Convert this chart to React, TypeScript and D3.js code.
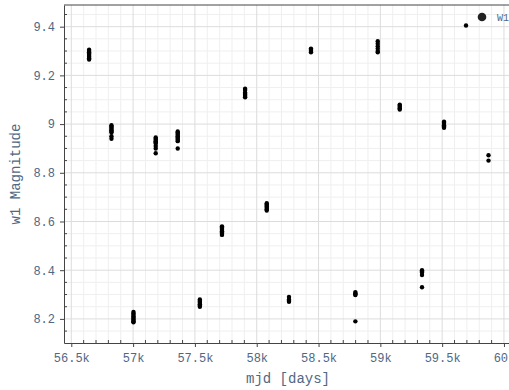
import React, { useEffect, useRef } from 'react';
import * as d3 from 'd3';

// observation epochs (mjd) and the w1 magnitudes measured in each visit
const epochs = [56644, 56825, 57003, 57183, 57361, 57540, 57719, 57906, 58081, 58261, 58439, 58798, 58979, 59157, 59337, 59515, 59693, 59875];
const w1Mags = [
  [9.305, 9.3, 9.295, 9.29, 9.285, 9.28, 9.275, 9.27, 9.265],
  [8.995, 8.99, 8.985, 8.98, 8.975, 8.97, 8.965, 8.95, 8.94],
  [8.228, 8.222, 8.216, 8.21, 8.205, 8.2, 8.195, 8.19, 8.186],
  [8.945, 8.94, 8.935, 8.93, 8.925, 8.92, 8.91, 8.9, 8.88],
  [8.97, 8.965, 8.96, 8.955, 8.95, 8.945, 8.94, 8.935, 8.93, 8.9],
  [8.28, 8.275, 8.27, 8.265, 8.26, 8.255, 8.25],
  [8.58, 8.575, 8.57, 8.565, 8.56, 8.555, 8.55, 8.545],
  [9.145, 9.14, 9.13, 9.125, 9.12, 9.115, 9.11],
  [8.675, 8.67, 8.665, 8.66, 8.655, 8.65, 8.645],
  [8.29, 8.28, 8.275, 8.27],
  [9.31, 9.305, 9.3, 9.295],
  [8.31, 8.305, 8.3, 8.298, 8.19],
  [9.34, 9.33, 9.32, 9.31, 9.3, 9.295],
  [9.08, 9.075, 9.07, 9.065, 9.06],
  [8.4, 8.395, 8.39, 8.38, 8.33],
  [9.01, 9.005, 9.0, 8.995, 8.99, 8.985],
  [9.405],
  [8.872, 8.85],
];
const xTicks = [56500, 57000, 57500, 58000, 58500, 59000, 59500, 60000];
const xTickLabels = ['56.5k', '57k', '57.5k', '58k', '58.5k', '59k', '59.5k', '60k'];
const yTicks = [8.2, 8.4, 8.6, 8.8, 9, 9.2, 9.4];
const seriesName = 'W1';

const W = 509;
const H = 390;
const margin = { left: 64, top: 5, right: -3, bottom: 47 };
const font = '"Courier New", "Liberation Mono", monospace';
const textColor = '#506784';

const App = () => {
  const ref = useRef(null);

  useEffect(() => {
    const svgRef = d3.select(ref.current);
    svgRef.selectAll('*').remove();

    const x0 = margin.left;
    const x1 = W - margin.right;
    const y0 = margin.top;
    const y1 = H - margin.bottom;

    const xScale = d3.scaleLinear().domain([56441, 60065]).range([x0, x1]);
    const yScale = d3.scaleLinear().domain([8.101, 9.489]).range([y1, y0]);

    const points = [];
    epochs.forEach((t, i) => {
      w1Mags[i].forEach((m) => points.push({ t, m }));
    });

    const svg = svgRef.attr('width', W).attr('height', H);

    // minor grid
    const xMinor = d3.range(56500, 60100, 100).filter((v) => v % 500 !== 0);
    const yMinor = d3.range(8.15, 9.5, 0.05).filter((v) => Math.abs(Math.round(v * 5) - v * 5) > 0.01);
    const grid = svg.append('g');
    grid.selectAll('.xm').data(xMinor).join('line')
      .attr('x1', (d) => xScale(d)).attr('x2', (d) => xScale(d))
      .attr('y1', y0).attr('y2', y1)
      .attr('stroke', '#efefef').attr('stroke-width', 1);
    grid.selectAll('.ym').data(yMinor).join('line')
      .attr('x1', x0).attr('x2', x1)
      .attr('y1', (d) => yScale(d)).attr('y2', (d) => yScale(d))
      .attr('stroke', '#efefef').attr('stroke-width', 1);

    // major grid
    grid.selectAll('.xM').data(xTicks).join('line')
      .attr('x1', (d) => xScale(d)).attr('x2', (d) => xScale(d))
      .attr('y1', y0).attr('y2', y1)
      .attr('stroke', '#dcdcdc').attr('stroke-width', 1);
    grid.selectAll('.yM').data(yTicks).join('line')
      .attr('x1', x0).attr('x2', x1)
      .attr('y1', (d) => yScale(d)).attr('y2', (d) => yScale(d))
      .attr('stroke', '#dcdcdc').attr('stroke-width', 1);

    // minor ticks inside
    svg.append('g').selectAll('line').data(xMinor).join('line')
      .attr('x1', (d) => xScale(d)).attr('x2', (d) => xScale(d))
      .attr('y1', y1).attr('y2', y1 - 3)
      .attr('stroke', '#444');
    svg.append('g').selectAll('line').data(yMinor).join('line')
      .attr('x1', x0).attr('x2', x0 + 3)
      .attr('y1', (d) => yScale(d)).attr('y2', (d) => yScale(d))
      .attr('stroke', '#444');

    // axes
    const xAxis = svg.append('g')
      .attr('transform', `translate(0, ${y1})`)
      .call(d3.axisBottom(xScale).tickValues(xTicks).tickSize(4).tickSizeOuter(0)
        .tickFormat((d, i) => xTickLabels[i]));
    const yAxis = svg.append('g')
      .attr('transform', `translate(${x0}, 0)`)
      .call(d3.axisLeft(yScale).tickValues(yTicks).tickSize(4).tickSizeOuter(0)
        .tickFormat((d) => String(d)));
    [xAxis, yAxis].forEach((a) => {
      a.select('.domain').attr('stroke', '#444');
      a.selectAll('.tick line').attr('stroke', '#444');
      a.selectAll('.tick text')
        .attr('fill', textColor)
        .attr('font-family', font)
        .attr('font-size', 12);
    });
    xAxis.selectAll('.tick text').attr('dy', '0.71em').attr('y', 10);
    yAxis.selectAll('.tick text').attr('x', -9);

    // top border
    svg.append('line')
      .attr('x1', x0).attr('x2', x1).attr('y1', y0).attr('y2', y0)
      .attr('stroke', '#444');

    // points
    svg.append('g').selectAll('circle').data(points).join('circle')
      .attr('cx', (d) => xScale(d.t))
      .attr('cy', (d) => yScale(d.m))
      .attr('r', 2.2)
      .attr('fill', '#000');

    // legend
    svg.append('circle').attr('cx', 482).attr('cy', 17).attr('r', 4.3).attr('fill', '#222');
    svg.append('text').attr('x', 497).attr('y', 21)
      .attr('fill', textColor).attr('font-family', font).attr('font-size', 10)
      .text(seriesName);

    // titles
    svg.append('text')
      .attr('x', (x0 + x1) / 2).attr('y', 383)
      .attr('text-anchor', 'middle')
      .attr('fill', textColor).attr('font-family', font).attr('font-size', 14)
      .text('mjd [days]');
    svg.append('text')
      .attr('transform', `translate(20, ${(y0 + y1) / 2}) rotate(-90)`)
      .attr('text-anchor', 'middle')
      .attr('fill', textColor).attr('font-family', font).attr('font-size', 14)
      .text('w1 Magnitude');
  }, []);

  return (
    <svg ref={ref} style={{ position: 'absolute', left: 0, top: 0, overflow: 'hidden' }}></svg>
  );
};

export default App;
